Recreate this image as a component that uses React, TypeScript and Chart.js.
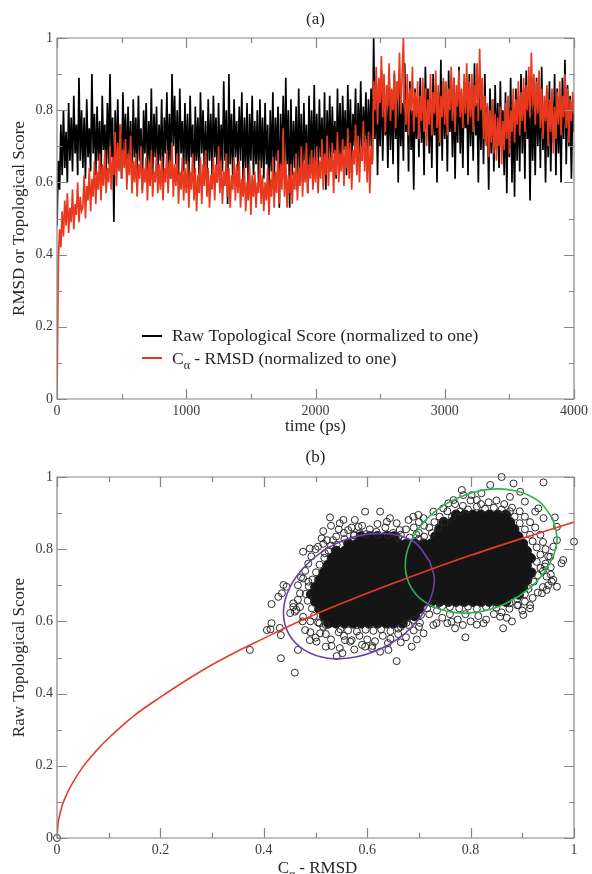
import React, { useEffect, useRef } from 'react';
import { Chart, registerables } from 'chart.js';

Chart.register(...registerables);

const FONT = "'Liberation Serif', 'Times New Roman', serif";

// ---------------- Panel (a): time series ----------------
const TIME_STEP_PS = 10;
const timeMajorTicks = [0, 1000, 2000, 3000, 4000];
const timeMinorTicks = [500, 1500, 2500, 3500];
const scoreMajorTicks = [0, 0.2, 0.4, 0.6, 0.8, 1];
const scoreMinorTicks = [0.1, 0.3, 0.5, 0.7, 0.9];

// Raw topological score (normalized to one), one value every 10 ps
const rawTopoScore = [
  0.48,0.66,0.58,0.76,0.62,0.80,0.64,0.74,0.60,0.82,0.66,0.78,0.63,0.84,0.68,0.76,0.62,0.89,0.66,0.80,
  0.64,0.78,0.61,0.83,0.67,0.75,0.63,0.90,0.68,0.79,0.62,0.81,0.66,0.77,0.60,0.84,0.69,0.76,0.63,0.82,
  0.65,0.90,0.67,0.78,0.49,0.80,0.64,0.83,0.66,0.76,0.61,0.85,0.68,0.79,0.63,0.81,0.65,0.77,0.60,0.83,
  0.67,0.78,0.62,0.84,0.66,0.75,0.58,0.80,0.68,0.82,0.63,0.77,0.65,0.86,0.61,0.79,0.67,0.81,0.62,0.76,
  0.66,0.83,0.60,0.78,0.68,0.85,0.64,0.79,0.61,0.90,0.70,0.84,0.65,0.80,0.62,0.86,0.68,0.77,0.63,0.82,
  0.65,0.79,0.60,0.84,0.67,0.76,0.57,0.81,0.66,0.78,0.62,0.85,0.68,0.80,0.63,0.77,0.59,0.83,0.66,0.79,
  0.62,0.84,0.67,0.78,0.60,0.82,0.65,0.76,0.63,0.88,0.66,0.80,0.54,0.90,0.65,0.79,0.61,0.83,0.67,0.77,
  0.63,0.81,0.66,0.85,0.60,0.78,0.64,0.82,0.58,0.79,0.66,0.84,0.62,0.77,0.65,0.80,0.59,0.83,0.64,0.78,
  0.61,0.82,0.65,0.76,0.55,0.80,0.63,0.85,0.60,0.78,0.66,0.81,0.53,0.79,0.64,0.84,0.61,0.89,0.65,0.80,
  0.53,0.83,0.62,0.77,0.64,0.81,0.58,0.86,0.63,0.79,0.60,0.82,0.66,0.76,0.57,0.84,0.64,0.80,0.61,0.87,
  0.65,0.79,0.60,0.83,0.67,0.78,0.62,0.85,0.58,0.80,0.66,0.84,0.63,0.81,0.68,0.77,0.61,0.86,0.66,0.82,
  0.64,0.84,0.69,0.80,0.62,0.87,0.67,0.83,0.65,0.79,0.70,0.86,0.63,0.82,0.68,0.88,0.66,0.81,0.71,0.85,
  0.67,0.83,0.70,0.86,0.66,1.00,0.72,0.88,0.62,0.84,0.70,0.91,0.66,0.86,0.73,0.82,0.64,0.89,0.69,0.85,
  0.65,0.90,0.72,0.84,0.60,0.87,0.70,0.82,0.66,0.93,0.74,0.85,0.63,0.88,0.69,0.80,0.58,0.86,0.72,0.83,
  0.67,0.89,0.71,0.84,0.62,0.92,0.75,0.86,0.68,0.83,0.64,0.90,0.73,0.87,0.60,0.85,0.70,0.94,0.66,0.88,
  0.72,0.86,0.63,0.91,0.74,0.84,0.67,0.89,0.61,0.85,0.71,0.92,0.68,0.83,0.64,0.88,0.75,0.86,0.62,0.90,
  0.70,0.85,0.66,0.93,0.73,0.82,0.60,0.88,0.69,0.84,0.65,0.90,0.71,0.81,0.58,0.86,0.68,0.83,0.63,0.87,
  0.69,0.82,0.64,0.88,0.70,0.80,0.62,0.85,0.57,0.83,0.67,0.89,0.60,0.81,0.56,0.86,0.66,0.84,0.63,0.90,
  0.68,0.86,0.61,0.91,0.72,0.84,0.55,0.87,0.66,0.83,0.62,0.89,0.70,0.85,0.64,0.92,0.69,0.81,0.60,0.86,
  0.67,0.88,0.63,0.84,0.71,0.90,0.62,0.86,0.68,0.82,0.60,0.89,0.72,0.94,0.65,0.87,0.70,0.84,0.61,0.83,
  0.74,
];

// C-alpha RMSD (normalized to one), one value every 10 ps
const caRmsd = [
  0.00,0.38,0.47,0.42,0.52,0.45,0.55,0.48,0.57,0.46,0.53,0.49,0.58,0.47,0.54,0.51,0.60,0.49,0.56,0.52,
  0.53,0.62,0.50,0.59,0.55,0.64,0.52,0.61,0.56,0.66,0.54,0.63,0.58,0.68,0.55,0.65,0.59,0.69,0.57,0.64,
  0.60,0.70,0.58,0.67,0.62,0.74,0.59,0.71,0.63,0.76,0.61,0.69,0.64,0.72,0.58,0.68,0.62,0.73,0.57,0.66,
  0.60,0.68,0.56,0.65,0.61,0.70,0.57,0.64,0.60,0.67,0.55,0.66,0.59,0.69,0.56,0.63,0.60,0.68,0.57,0.65,
  0.58,0.67,0.55,0.64,0.60,0.69,0.57,0.66,0.61,0.71,0.56,0.65,0.59,0.68,0.54,0.63,0.58,0.67,0.55,0.64,
  0.57,0.66,0.53,0.63,0.58,0.68,0.55,0.64,0.52,0.62,0.57,0.67,0.54,0.65,0.59,0.69,0.56,0.64,0.53,0.62,
  0.58,0.67,0.55,0.65,0.60,0.70,0.57,0.66,0.54,0.63,0.59,0.68,0.56,0.64,0.53,0.62,0.58,0.67,0.55,0.65,
  0.57,0.66,0.53,0.61,0.56,0.64,0.52,0.60,0.55,0.65,0.51,0.62,0.56,0.63,0.53,0.60,0.57,0.66,0.54,0.62,
  0.52,0.60,0.55,0.64,0.51,0.61,0.56,0.67,0.53,0.63,0.57,0.69,0.54,0.65,0.58,0.75,0.56,0.66,0.53,0.62,
  0.57,0.65,0.54,0.63,0.58,0.68,0.55,0.64,0.59,0.70,0.56,0.66,0.60,0.71,0.57,0.65,0.61,0.69,0.58,0.67,
  0.60,0.70,0.57,0.66,0.61,0.72,0.58,0.68,0.62,0.73,0.59,0.67,0.63,0.71,0.57,0.69,0.62,0.74,0.60,0.68,
  0.63,0.72,0.59,0.70,0.64,0.75,0.61,0.71,0.58,0.69,0.65,0.76,0.62,0.73,0.60,0.70,0.66,0.77,0.63,0.72,
  0.60,0.74,0.57,0.70,0.65,0.88,0.80,0.92,0.76,0.89,0.82,0.95,0.78,0.90,0.74,0.87,0.81,0.93,0.77,0.86,
  0.80,0.91,0.75,0.88,0.83,0.96,0.79,0.89,1.00,0.82,0.76,0.90,0.73,0.86,0.80,0.92,0.74,0.85,0.78,0.88,
  0.72,0.84,0.77,0.89,0.74,0.86,0.70,0.83,0.76,0.90,0.73,0.85,0.79,0.91,0.75,0.87,0.71,0.84,0.78,0.89,
  0.76,0.88,0.73,0.86,0.80,0.92,0.77,0.89,0.74,0.87,0.81,0.91,0.78,0.86,0.75,0.90,0.79,0.93,0.76,0.88,
  0.78,0.90,0.74,0.87,0.81,0.93,0.77,0.97,0.80,0.89,0.72,0.84,0.70,0.82,0.67,0.80,0.71,0.83,0.68,0.79,
  0.66,0.78,0.70,0.81,0.65,0.77,0.69,0.82,0.72,0.84,0.68,0.80,0.74,0.86,0.71,0.83,0.76,0.88,0.73,0.85,
  0.77,0.89,0.74,0.87,0.80,0.92,0.78,0.96,0.81,0.90,0.76,0.88,0.79,0.91,0.75,0.86,0.72,0.84,0.77,0.87,
  0.70,0.83,0.74,0.86,0.68,0.81,0.72,0.85,0.76,0.88,0.73,0.84,0.78,0.90,0.75,0.86,0.71,0.83,0.77,0.85,
  0.79,
];

// ---------------- Panel (b): scatter ----------------
const rmsdMajorTicks = [0, 0.2, 0.4, 0.6, 0.8, 1];
const rmsdMinorTicks = [0.1, 0.3, 0.5, 0.7, 0.9];

// fitted curve
const fitCurveX = [0, 0.002, 0.005, 0.01, 0.02, 0.03, 0.05, 0.075, 0.1, 0.15, 0.2, 0.25, 0.3, 0.35, 0.4, 0.45, 0.5, 0.6, 0.7, 0.8, 0.9, 1.0];
const fitCurveY = [0, 0.04, 0.062, 0.09, 0.125, 0.152, 0.197, 0.24, 0.277, 0.34, 0.39, 0.437, 0.48, 0.518, 0.553, 0.588, 0.62, 0.678, 0.732, 0.783, 0.83, 0.875];

// outlines of the two cluster ellipses, read around each curve
const purpleEllipseX = [0.721, 0.730, 0.717, 0.684, 0.636, 0.580, 0.524, 0.478, 0.448, 0.438, 0.451, 0.484, 0.532, 0.589, 0.644, 0.691, 0.721];
const purpleEllipseY = [0.766, 0.713, 0.645, 0.581, 0.531, 0.502, 0.498, 0.521, 0.566, 0.628, 0.696, 0.759, 0.810, 0.839, 0.842, 0.820, 0.766];
const greenEllipseX = [0.959, 0.967, 0.951, 0.916, 0.867, 0.810, 0.755, 0.709, 0.681, 0.674, 0.689, 0.724, 0.774, 0.831, 0.886, 0.931, 0.959];
const greenEllipseY = [0.885, 0.822, 0.755, 0.694, 0.649, 0.625, 0.628, 0.656, 0.705, 0.768, 0.835, 0.896, 0.941, 0.965, 0.962, 0.934, 0.885];

// individual (sparse) structures
const scatterOutliers: [number, number][] = [
  [0, 0],
  [0.373,0.521],[0.415,0.648],[0.433,0.498],[0.415,0.595],[0.406,0.576],[0.413,0.578],[0.433,0.562],[0.431,0.582],[0.428,0.668],[0.435,0.678],[0.444,0.696],[0.460,0.458],[0.451,0.623],[0.457,0.640],[0.463,0.632],[0.466,0.521],
  [0.541,0.504],[0.657,0.490],[0.625,0.516],[0.641,0.521],[0.609,0.526],[0.596,0.530],[0.686,0.530],[0.696,0.550],[0.709,0.567],[0.702,0.596],[0.728,0.590],[0.734,0.595],[0.763,0.599],[0.770,0.581],[0.790,0.556],[0.812,0.591],[0.863,0.581],[0.857,0.613],[0.892,0.645],[0.902,0.618],[0.915,0.636],[0.938,0.678],[0.947,0.687],[0.957,0.710],
  [0.480,0.576],[0.489,0.548],[0.502,0.544],[0.509,0.567],[0.515,0.585],[0.531,0.532],[0.547,0.526],[0.557,0.548],[0.567,0.544],[0.457,0.650],[0.460,0.627],[0.476,0.613],
  [0.860,1.000],[0.883,0.982],[0.941,0.985],[0.838,0.978],[0.783,0.964],[0.786,0.950],[0.802,0.950],[0.821,0.955],[0.812,0.936],[0.876,0.945],[0.896,0.959],[0.905,0.932],[0.925,0.904],[0.931,0.913],[0.941,0.886],[0.963,0.888],[0.967,0.862],[0.967,0.825],[0.976,0.761],[0.979,0.770],[1.000,0.821],[0.954,0.779],[0.960,0.807],[0.944,0.752],[0.947,0.724],[0.960,0.715],[0.967,0.696],
  [0.757,0.927],[0.767,0.936],[0.747,0.913],[0.728,0.904],[0.689,0.890],[0.680,0.881],[0.709,0.886],[0.699,0.895],[0.644,0.886],[0.638,0.876],[0.657,0.872],[0.663,0.853],[0.625,0.904],[0.596,0.904],[0.576,0.881],[0.583,0.862],[0.554,0.881],[0.547,0.872],[0.528,0.888],[0.563,0.853],[0.586,0.844],[0.618,0.848],[0.512,0.830],[0.522,0.825],[0.534,0.825],[0.476,0.793],[0.489,0.802],[0.505,0.807],[0.518,0.789],[0.476,0.719],[0.486,0.710],[0.438,0.701],
  [0.490,0.570],[0.500,0.555],[0.520,0.565],[0.530,0.550],[0.545,0.570],[0.555,0.560],[0.570,0.548],[0.585,0.560],[0.600,0.550],[0.615,0.545],[0.630,0.560],[0.645,0.552],[0.660,0.565],[0.675,0.556],[0.690,0.575],[0.700,0.585],[0.680,0.590],[0.665,0.585],[0.520,0.590],[0.505,0.597],[0.490,0.600],[0.475,0.600],[0.470,0.640],[0.466,0.660],[0.470,0.678],[0.466,0.700],[0.472,0.722],[0.480,0.740],[0.486,0.760],[0.492,0.780],[0.590,0.535],[0.610,0.532],[0.575,0.522],[0.552,0.512],[0.640,0.540],[0.665,0.542],[0.520,0.530],
  [0.500,0.800],[0.515,0.815],[0.530,0.810],[0.540,0.835],[0.555,0.845],[0.570,0.860],[0.590,0.865],[0.605,0.855],[0.620,0.870],[0.635,0.860],[0.650,0.845],[0.665,0.840],[0.675,0.855],[0.690,0.860],[0.700,0.845],[0.682,0.832],[0.700,0.828],[0.575,0.840],[0.545,0.855],[0.530,0.865],[0.515,0.850],
  [0.720,0.620],[0.735,0.630],[0.745,0.610],[0.760,0.620],[0.775,0.605],[0.790,0.620],[0.800,0.600],[0.815,0.615],[0.830,0.605],[0.845,0.620],[0.860,0.625],[0.875,0.635],[0.890,0.645],[0.905,0.655],[0.920,0.665],[0.930,0.680],[0.940,0.695],[0.950,0.700],[0.755,0.595],[0.785,0.590],[0.825,0.595],[0.870,0.610],[0.880,0.600],[0.900,0.630],[0.915,0.645],
  [0.940,0.740],[0.945,0.760],[0.950,0.780],[0.945,0.800],[0.940,0.820],[0.935,0.840],[0.925,0.860],[0.915,0.875],[0.905,0.890],[0.895,0.905],[0.880,0.915],[0.865,0.925],[0.850,0.935],[0.835,0.930],[0.820,0.925],[0.800,0.935],[0.785,0.920],[0.770,0.925],[0.755,0.905],[0.740,0.890],[0.730,0.875],[0.720,0.860],[0.710,0.865],[0.700,0.875],[0.955,0.730],[0.955,0.750],
  [0.508,0.595],[0.497,0.615],[0.493,0.636],[0.485,0.657],[0.481,0.676],[0.487,0.697],[0.494,0.716],[0.501,0.736],[0.508,0.757],[0.517,0.776],[0.525,0.796],[0.541,0.812],[0.556,0.828],[0.574,0.838],[0.598,0.842],[0.620,0.840],[0.640,0.840],[0.660,0.832],
  [0.548,0.578],[0.563,0.575],[0.580,0.572],[0.597,0.577],[0.612,0.574],[0.627,0.578],[0.645,0.573],[0.660,0.580],[0.676,0.596],[0.690,0.604],[0.704,0.618],[0.716,0.636],[0.730,0.648],[0.745,0.642],[0.760,0.640],[0.778,0.636],[0.795,0.641],[0.812,0.635],[0.830,0.640],[0.850,0.638],[0.875,0.650],[0.890,0.662],[0.905,0.675],[0.912,0.690],
  [0.922,0.710],[0.930,0.728],[0.935,0.748],[0.928,0.765],[0.935,0.785],[0.928,0.805],[0.920,0.822],[0.915,0.840],[0.905,0.855],[0.895,0.872],[0.885,0.890],[0.876,0.905],[0.860,0.910],[0.845,0.915],[0.828,0.912],[0.812,0.918],[0.795,0.910],[0.780,0.905],[0.764,0.890],[0.750,0.875],[0.738,0.860],[0.725,0.845],[0.710,0.835],[0.695,0.840],
];

// dense cores of the two clusters, sampled row by row (Raw score per row, RMSD values in the row)
const coreRowY = [0.595, 0.615, 0.635, 0.655, 0.675, 0.695, 0.715, 0.735, 0.755, 0.775, 0.795, 0.815, 0.835, 0.855, 0.875, 0.895];
const coreRowX: number[][] = [
  [0.525,0.540,0.556,0.573,0.588,0.603,0.620,0.637,0.651,0.668],
  [0.517,0.532,0.548,0.565,0.580,0.595,0.612,0.628,0.645,0.660,0.676,0.692],
  [0.508,0.525,0.540,0.556,0.572,0.589,0.604,0.620,0.636,0.652,0.669,0.684,0.700],
  [0.500,0.516,0.533,0.548,0.564,0.580,0.597,0.612,0.628,0.644,0.661,0.676,0.692,0.708,0.724,0.740,0.757,0.772,0.788,0.804,0.821,0.836,0.852,0.868],
  [0.492,0.509,0.524,0.540,0.556,0.573,0.588,0.604,0.620,0.637,0.652,0.668,0.684,0.701,0.716,0.732,0.748,0.765,0.780,0.796,0.812,0.829,0.844,0.860,0.876,0.893],
  [0.500,0.517,0.532,0.548,0.564,0.581,0.596,0.612,0.628,0.645,0.660,0.676,0.692,0.709,0.724,0.740,0.756,0.773,0.788,0.804,0.820,0.837,0.852,0.868,0.884,0.901],
  [0.508,0.525,0.540,0.556,0.572,0.589,0.604,0.620,0.636,0.653,0.668,0.684,0.700,0.717,0.732,0.748,0.764,0.781,0.796,0.812,0.828,0.845,0.860,0.876,0.892,0.909],
  [0.516,0.533,0.548,0.564,0.580,0.597,0.612,0.628,0.644,0.661,0.676,0.692,0.708,0.725,0.740,0.756,0.772,0.789,0.804,0.820,0.836,0.853,0.868,0.884,0.900,0.917],
  [0.524,0.541,0.556,0.572,0.588,0.605,0.620,0.636,0.652,0.669,0.684,0.700,0.716,0.733,0.748,0.764,0.780,0.797,0.812,0.828,0.844,0.861,0.876,0.892,0.908],
  [0.532,0.549,0.564,0.580,0.596,0.613,0.628,0.644,0.660,0.677,0.692,0.708,0.724,0.741,0.756,0.772,0.788,0.805,0.820,0.836,0.852,0.869,0.884,0.900,0.916],
  [0.540,0.557,0.572,0.588,0.604,0.621,0.636,0.652,0.668,0.685,0.700,0.716,0.732,0.749,0.764,0.780,0.796,0.813,0.828,0.844,0.860,0.877,0.892,0.908],
  [0.564,0.581,0.596,0.612,0.628,0.645,0.660,0.676,0.692,0.709,0.724,0.740,0.756,0.773,0.788,0.804,0.820,0.837,0.852,0.868,0.884,0.901],
  [0.588,0.605,0.620,0.636,0.652,0.732,0.749,0.764,0.780,0.796,0.813,0.828,0.844,0.860,0.877,0.892],
  [0.740,0.757,0.772,0.788,0.804,0.821,0.836,0.852,0.868,0.884],
  [0.748,0.765,0.780,0.796,0.812,0.829,0.844,0.860,0.876],
  [0.772,0.789,0.804,0.820,0.836,0.853,0.868],
];

// ---------------- helpers ----------------
const LABEL_COLOR = '#3c3c3c';
const TITLE_COLOR = '#262626';
const FRAME_COLOR = '#868686';
const RED = '#e8391e';

const fmt = (v: number) => String(Math.round(v * 10) / 10);

function framePlugin(xMajor: number[], xMinor: number[], yMajor: number[], yMinor: number[]) {
  return {
    id: 'frameTicks',
    afterDatasetsDraw(chart: any) {
      const { ctx, chartArea: a } = chart;
      const xs = chart.scales.x;
      const ys = chart.scales.y;
      ctx.save();
      ctx.strokeStyle = FRAME_COLOR;
      ctx.lineWidth = 1.2;
      ctx.beginPath();
      ctx.rect(a.left, a.top, a.right - a.left, a.bottom - a.top);
      const xt = (vals: number[], len: number) => {
        vals.forEach((v) => {
          const p = Math.round(xs.getPixelForValue(v)) + 0.5;
          ctx.moveTo(p, a.bottom); ctx.lineTo(p, a.bottom - len);
          ctx.moveTo(p, a.top); ctx.lineTo(p, a.top + len);
        });
      };
      const yt = (vals: number[], len: number) => {
        vals.forEach((v) => {
          const p = Math.round(ys.getPixelForValue(v)) + 0.5;
          ctx.moveTo(a.left, p); ctx.lineTo(a.left + len, p);
          ctx.moveTo(a.right, p); ctx.lineTo(a.right - len, p);
        });
      };
      xt(xMajor, 10); xt(xMinor, 5); yt(yMajor, 10); yt(yMinor, 5);
      ctx.stroke();
      ctx.restore();
    },
  };
}

// draws "C" with subscript alpha followed by the rest of the text
function drawCalpha(ctx: CanvasRenderingContext2D, rest: string, x: number, y: number, size: number, align: 'left' | 'center') {
  ctx.font = `${size}px ${FONT}`;
  const wC = ctx.measureText('C').width;
  const wR = ctx.measureText(rest).width;
  ctx.font = `${size * 0.68}px ${FONT}`;
  const wA = ctx.measureText('\u03b1').width;
  const total = wC + wA + wR;
  const x0 = align === 'center' ? x - total / 2 : x;
  ctx.textAlign = 'left';
  ctx.textBaseline = 'alphabetic';
  ctx.font = `${size}px ${FONT}`;
  ctx.fillText('C', x0, y);
  ctx.font = `${size * 0.68}px ${FONT}`;
  ctx.fillText('\u03b1', x0 + wC, y + size * 0.28);
  ctx.font = `${size}px ${FONT}`;
  ctx.fillText(rest, x0 + wC + wA, y);
}

const tickFont = { family: FONT, size: 14 };

export default function App() {
  const topRef = useRef<HTMLCanvasElement>(null);
  const botRef = useRef<HTMLCanvasElement>(null);

  useEffect(() => {
    const topCanvas = topRef.current!;
    const botCanvas = botRef.current!;

    const textA = {
      id: 'textA',
      afterDraw(chart: any) {
        const { ctx, chartArea: a } = chart;
        const cx = (a.left + a.right) / 2;
        ctx.save();
        ctx.fillStyle = TITLE_COLOR;
        ctx.font = `17px ${FONT}`;
        ctx.textAlign = 'center';
        ctx.textBaseline = 'middle';
        ctx.fillText('(a)', cx, a.top - 18);
        ctx.fillText('time (ps)', cx, a.bottom + 28);
        ctx.save();
        ctx.translate(20, (a.top + a.bottom) / 2);
        ctx.rotate(-Math.PI / 2);
        ctx.fillText('RMSD or Topological Score', 0, 0);
        ctx.restore();
        // legend
        const lx = 142, ly1 = 336, ly2 = 358;
        ctx.lineWidth = 2;
        ctx.strokeStyle = '#000';
        ctx.beginPath(); ctx.moveTo(lx, ly1); ctx.lineTo(lx + 20, ly1); ctx.stroke();
        ctx.strokeStyle = RED;
        ctx.beginPath(); ctx.moveTo(lx, ly2); ctx.lineTo(lx + 20, ly2); ctx.stroke();
        ctx.textAlign = 'left';
        ctx.textBaseline = 'middle';
        ctx.font = `17.5px ${FONT}`;
        ctx.fillText('Raw Topological Score (normalized to one)', lx + 30, ly1);
        drawCalpha(ctx, ' - RMSD (normalized to one)', lx + 30, ly2 + 6, 17.5, 'left');
        ctx.restore();
      },
    };

    const textB = {
      id: 'textB',
      afterDraw(chart: any) {
        const { ctx, chartArea: a } = chart;
        const cx = (a.left + a.right) / 2;
        ctx.save();
        ctx.fillStyle = TITLE_COLOR;
        ctx.font = `17px ${FONT}`;
        ctx.textAlign = 'center';
        ctx.textBaseline = 'middle';
        ctx.fillText('(b)', cx, a.top - 19);
        ctx.save();
        ctx.translate(20, (a.top + a.bottom) / 2);
        ctx.rotate(-Math.PI / 2);
        ctx.fillText('Raw Topological Score', 0, 0);
        ctx.restore();
        drawCalpha(ctx, ' - RMSD', cx + 2, a.bottom + 35, 17, 'center');
        ctx.restore();
      },
    };

    const axisCommon = (min: number, max: number, step: number, cb: (v: number) => string) => ({
      type: 'linear' as const,
      min, max,
      grid: { display: false, drawTicks: false },
      border: { display: false },
      ticks: { stepSize: step, padding: 4, color: LABEL_COLOR, font: tickFont, autoSkip: false, maxRotation: 0, callback: (v: any) => cb(Number(v)) },
    });

    const topChart = new Chart(topCanvas, {
      type: 'line',
      data: {
        datasets: [
          {
            label: 'Raw Topological Score (normalized to one)',
            data: rawTopoScore.map((v, i) => ({ x: i * TIME_STEP_PS, y: v })),
            borderColor: '#000', borderWidth: 1.7, pointRadius: 0, tension: 0, order: 1,
          },
          {
            label: 'Cα - RMSD (normalized to one)',
            data: caRmsd.map((v, i) => ({ x: i * TIME_STEP_PS, y: v })),
            borderColor: RED, borderWidth: 1.7, pointRadius: 0, tension: 0, order: 0,
          },
        ],
      },
      options: {
        responsive: false,
        animation: false,
        events: [],
        layout: { padding: { top: 38, right: 18, left: 0, bottom: 0 } },
        plugins: { legend: { display: false }, tooltip: { enabled: false } },
        scales: {
          x: { ...axisCommon(0, 4000, 1000, (v) => String(Math.round(v))), afterFit: (s: any) => { s.height = 37; } },
          y: { ...axisCommon(0, 1, 0.2, fmt), afterFit: (s: any) => { s.width = 57; } },
        },
      } as any,
      plugins: [framePlugin(timeMajorTicks, timeMinorTicks, scoreMajorTicks, scoreMinorTicks), textA],
    });

    const corePoints = coreRowY.flatMap((y, r) => coreRowX[r].map((x) => ({ x, y })));

    const botChart = new Chart(botCanvas, {
      type: 'scatter',
      data: {
        datasets: [
          {
            label: 'fit',
            data: fitCurveX.map((x, i) => ({ x, y: fitCurveY[i] })),
            showLine: true, borderColor: '#e83b2c', borderWidth: 1.6, pointRadius: 0,
            cubicInterpolationMode: 'monotone', order: 0,
          },
          {
            label: 'cluster 1',
            data: purpleEllipseX.map((x, i) => ({ x, y: purpleEllipseY[i] })),
            showLine: true, borderColor: '#6b3fa8', borderWidth: 1.6, pointRadius: 0, tension: 0.4, order: 1,
          },
          {
            label: 'cluster 2',
            data: greenEllipseX.map((x, i) => ({ x, y: greenEllipseY[i] })),
            showLine: true, borderColor: '#2fb44b', borderWidth: 1.6, pointRadius: 0, tension: 0.4, order: 1,
          },
          {
            label: 'structures',
            data: scatterOutliers.map(([x, y]) => ({ x, y })),
            pointRadius: 3.5, pointBorderWidth: 1, pointBorderColor: '#2a2a2a', pointBackgroundColor: 'rgba(0,0,0,0)',
            borderColor: '#2a2a2a', backgroundColor: 'rgba(0,0,0,0)', clip: false, order: 2,
          },
          {
            label: 'structures (dense core)',
            data: corePoints,
            pointRadius: 4.9, pointBorderWidth: 1, pointBorderColor: '#151515', pointBackgroundColor: '#151515',
            borderColor: '#151515', backgroundColor: '#151515', clip: false, order: 3,
          },
        ],
      },
      options: {
        responsive: false,
        animation: false,
        events: [],
        layout: { padding: { top: 41, right: 18, left: 0, bottom: 0 } },
        plugins: { legend: { display: false }, tooltip: { enabled: false } },
        scales: {
          x: { ...axisCommon(0, 1, 0.2, fmt), afterFit: (s: any) => { s.height = 36; } },
          y: { ...axisCommon(0, 1, 0.2, fmt), afterFit: (s: any) => { s.width = 57; } },
        },
      } as any,
      plugins: [framePlugin(rmsdMajorTicks, rmsdMinorTicks, rmsdMajorTicks, rmsdMinorTicks), textB],
    });

    return () => {
      topChart.destroy();
      botChart.destroy();
    };
  }, []);

  return (
    <div style={{ position: 'absolute', left: 0, top: 0, width: 592, height: 874, background: '#fff', overflow: 'hidden' }}>
      <canvas ref={topRef} width={592} height={436} style={{ position: 'absolute', left: 0, top: 0, width: 592, height: 436 }} />
      <canvas ref={botRef} width={592} height={438} style={{ position: 'absolute', left: 0, top: 436, width: 592, height: 438 }} />
    </div>
  );
}
